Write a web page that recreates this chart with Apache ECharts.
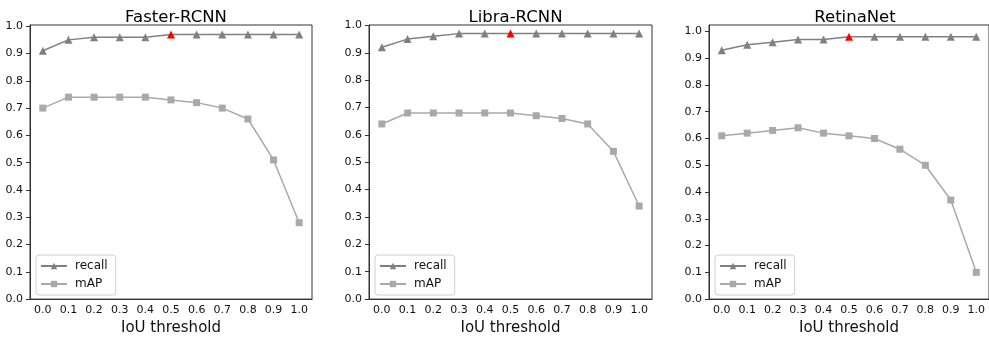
<!DOCTYPE html>
<html>
<head>
<meta charset="utf-8">
<script src="https://cdn.jsdelivr.net/npm/echarts@6/dist/echarts.min.js"></script>
<style>html,body{margin:0;padding:0;background:#fff;}#c{width:989px;height:341px;}</style>
</head>
<body>
<div id="c"></div>
<script>
const xLabels = ['0.0','0.1','0.2','0.3','0.4','0.5','0.6','0.7','0.8','0.9','1.0'];
const yTicks = [0,0.1,0.2,0.3,0.4,0.5,0.6,0.7,0.8,0.9,1.0];
const titles = ['Faster-RCNN','Libra-RCNN','RetinaNet'];
const fasterRecall = [0.91,0.95,0.96,0.96,0.96,0.97,0.97,0.97,0.97,0.97,0.97];
const fasterMAP    = [0.70,0.74,0.74,0.74,0.74,0.73,0.72,0.70,0.66,0.51,0.28];
const libraRecall  = [0.92,0.95,0.96,0.97,0.97,0.97,0.97,0.97,0.97,0.97,0.97];
const libraMAP     = [0.64,0.68,0.68,0.68,0.68,0.68,0.67,0.66,0.64,0.54,0.34];
const retinaRecall = [0.93,0.95,0.96,0.97,0.97,0.98,0.98,0.98,0.98,0.98,0.98];
const retinaMAP    = [0.61,0.62,0.63,0.64,0.62,0.61,0.60,0.56,0.50,0.37,0.10];
const highlightIndex = 5;

const recalls = [fasterRecall, libraRecall, retinaRecall];
const maps = [fasterMAP, libraMAP, retinaMAP];
const yMax = [1.0045, 1.0015, 1.024];
const gridLeft = [30, 369, 709];
const gridWidth = [282, 283, 282];
const FONT = 'DejaVu Sans';
const frameColor = '#333';

const grids = [], xAxes = [], yAxes = [], series = [], titleOpts = [], legends = [];
for (let i = 0; i < 3; i++) {
  grids.push({left: gridLeft[i], top: 25, width: gridWidth[i], height: 276,
    show: true, borderColor: frameColor, borderWidth: 1, backgroundColor: 'transparent'});
  titleOpts.push({text: titles[i], left: gridLeft[i] + gridWidth[i] / 2, top: 4, textAlign: 'center',
    textStyle: {fontFamily: FONT, fontSize: 16.5, fontWeight: 'normal', color: '#000'}});
  xAxes.push({type: 'category', gridIndex: i, data: xLabels, boundaryGap: true,
    name: 'IoU threshold', nameLocation: 'middle', nameGap: 19,
    nameTextStyle: {fontFamily: FONT, fontSize: 15, color: '#111'},
    axisLine: {lineStyle: {color: frameColor, width: 1}},
    axisTick: {alignWithLabel: true, length: 4, lineStyle: {color: frameColor}},
    axisLabel: {fontFamily: FONT, fontSize: 11, color: '#111', margin: 6, interval: 0},
    splitLine: {show: false}});
  yAxes.push({type: 'value', gridIndex: i, min: 0, max: yMax[i],
    axisLine: {show: true, lineStyle: {color: frameColor, width: 1}},
    axisTick: {show: true, length: 4, lineStyle: {color: frameColor}, customValues: yTicks},
    axisLabel: {fontFamily: FONT, fontSize: 11, color: '#111', margin: 7,
      customValues: yTicks, formatter: v => v.toFixed(1)},
    splitLine: {show: false}});
  series.push({name: 'recall', type: 'line', xAxisIndex: i, yAxisIndex: i,
    data: recalls[i].map((v, k) => k === highlightIndex ? {value: v, itemStyle: {color: '#ff0000'}} : v),
    symbol: 'triangle', symbolSize: 8, showAllSymbol: true,
    lineStyle: {color: '#808080', width: 1.5}, itemStyle: {color: '#808080'}, z: 3});
  series.push({name: 'mAP', type: 'line', xAxisIndex: i, yAxisIndex: i, data: maps[i],
    symbol: 'rect', symbolSize: 7, showAllSymbol: true,
    lineStyle: {color: '#a9a9a9', width: 1.5}, itemStyle: {color: '#a9a9a9'}, z: 2});
  legends.push({left: gridLeft[i] + 6, top: 255, orient: 'vertical', data: ['recall', 'mAP'],
    itemWidth: 26, itemHeight: 8, itemGap: 6, padding: [5, 8, 5, 4],
    borderColor: '#d0d0d0', borderWidth: 1, borderRadius: 3, backgroundColor: '#fff',
    textStyle: {fontFamily: FONT, fontSize: 12, color: '#111', padding: [0, 0, 0, 3]}, selectedMode: false});
}

const chart = echarts.init(document.getElementById('c'), null, {renderer: 'canvas'});
chart.setOption({
  animation: false,
  backgroundColor: '#fff',
  title: titleOpts, grid: grids, xAxis: xAxes, yAxis: yAxes, legend: legends, series: series
});
</script>
</body>
</html>
